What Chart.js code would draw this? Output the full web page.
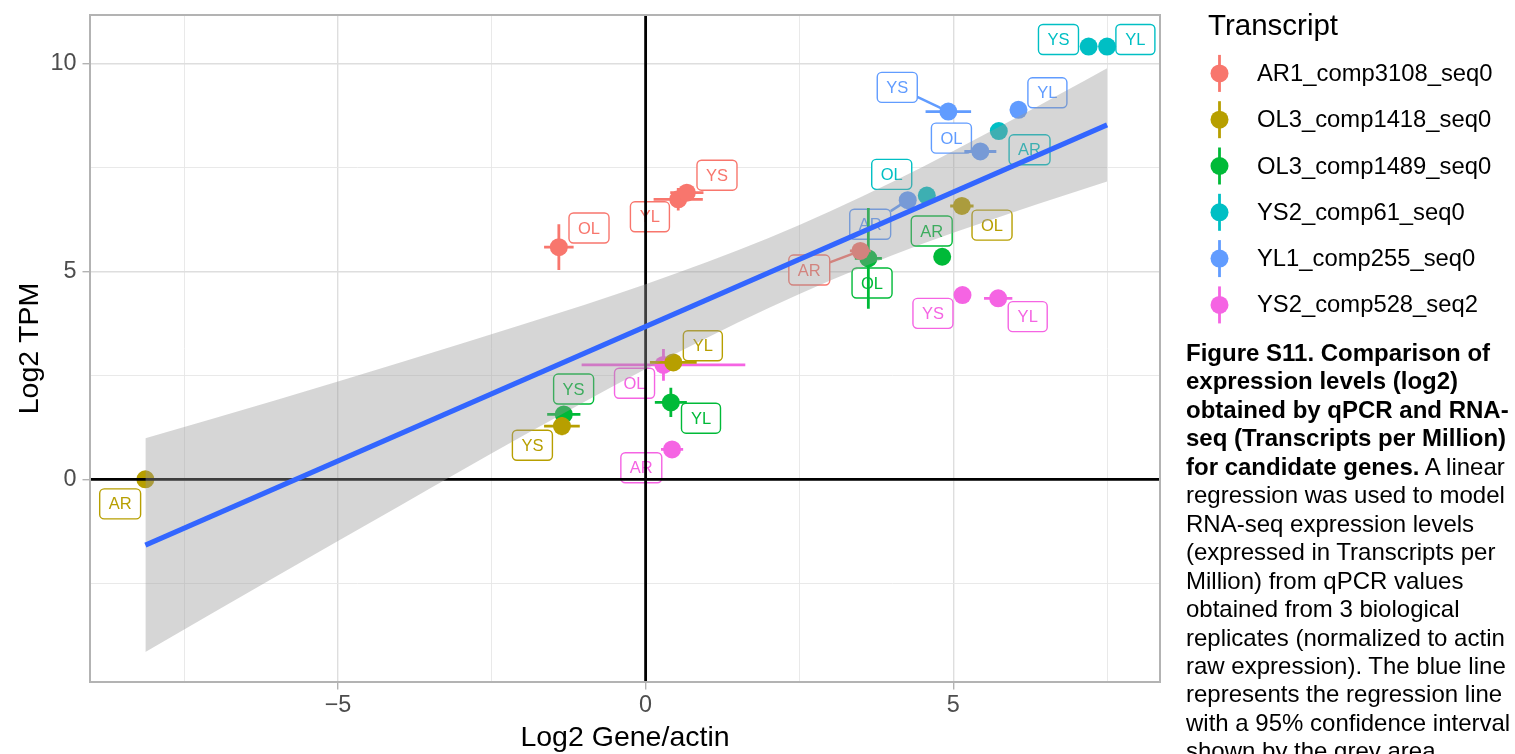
<!DOCTYPE html>
<html><head><meta charset="utf-8">
<script src="https://cdn.jsdelivr.net/npm/chart.js"></script>
<style>
html,body{margin:0;padding:0;background:#fff;overflow:hidden;}
#wrap{position:relative;width:1515px;height:754px;overflow:hidden;}
canvas{position:absolute;left:0;top:0;}
#cap{position:absolute;left:1186px;top:339px;font-family:"Liberation Sans",Arial,sans-serif;font-size:24px;line-height:28.46px;white-space:nowrap;color:#000;}
</style></head><body>
<div id="wrap"><canvas id="c" width="1515" height="754"></canvas>
<div id="cap"><b>Figure S11. Comparison of<br>expression levels (log2)<br>obtained by qPCR and RNA-<br>seq (Transcripts per Million)<br>for candidate genes.</b> A linear<br>regression was used to model<br>RNA-seq expression levels<br>(expressed in Transcripts per<br>Million) from qPCR values<br>obtained from 3 biological<br>replicates (normalized to actin<br>raw expression). The blue line<br>represents the regression line<br>with a 95% confidence interval<br>shown by the grey area.</div></div>
<script>
// ---------------- data ----------------
const transcripts = ['AR1_comp3108_seq0','OL3_comp1418_seq0','OL3_comp1489_seq0','YS2_comp61_seq0','YL1_comp255_seq0','YS2_comp528_seq2'];
const tissues = ['AR','OL','YL','YS'];
// Log2 Gene/actin (x), per transcript, order AR, OL, YL, YS
const geneActin = [
  [3.49, -1.41, 0.53, 0.67],
  [-8.13, 5.14, 0.45, -1.36],
  [4.82, 3.62, 0.41, -1.33],
  [5.74, 4.57, 7.50, 7.20],
  [4.26, 5.44, 6.06, 4.92],
  [0.43, 0.29, 5.73, 5.15]
];
// Log2 TPM (y)
const tpm = [
  [5.49, 5.58, 6.73, 6.89],
  [0.00, 6.57, 2.81, 1.28],
  [5.35, 5.31, 1.85, 1.56],
  [8.37, 6.82, 10.40, 10.40],
  [6.71, 7.88, 8.88, 8.84],
  [0.72, 2.75, 4.35, 4.43]
];
// half-width of error bars
const geneActinErr = [
  [0.17, 0.24, 0.40, 0.27],
  [0.12, 0.19, 0.38, 0.29],
  [0.05, 0.22, 0.26, 0.27],
  [0.10, 0.08, 0.07, 0.05],
  [0.10, 0.26, 0.05, 0.37],
  [0.18, 1.33, 0.23, 0.10]
];
const tpmErr = [
  [0.10, 0.55, 0.27, 0.20],
  [0.00, 0.08, 0.12, 0.22],
  [0.05, 1.21, 0.35, 0.12],
  [0.10, 0.08, 0.05, 0.05],
  [0.08, 0.10, 0.05, 0.10],
  [0.08, 0.38, 0.08, 0.10]
];
// repelled label anchor (data units)
const labelGeneActin = [
  [2.66, -0.92, 0.07, 1.16],
  [-8.54, 5.63, 0.93, -1.84],
  [4.65, 3.68, 0.90, -1.17],
  [6.24, 4.00, 7.96, 6.71],
  [3.65, 4.97, 6.53, 4.09],
  [-0.07, -0.18, 6.21, 4.67]
];
const labelTpm = [
  [5.03, 6.04, 6.31, 7.31],
  [-0.59, 6.11, 3.21, 0.82],
  [5.97, 4.72, 1.47, 2.17],
  [7.92, 7.33, 10.57, 10.57],
  [6.13, 8.20, 9.29, 9.42],
  [0.28, 2.31, 3.91, 3.99]
];
// regression line and 95% CI band
const fitX = [-8.13, 7.50];
const fitY = [-1.58, 8.52];
const bandX = [-8.13, -6, -4, -2, 0, 2, 4, 6, 7.50];
const bandUpper = [0.99, 1.91, 2.80, 3.72, 4.69, 5.80, 7.14, 8.67, 9.88];
const bandLower = [-4.15, -2.33, -0.64, 1.04, 2.65, 4.12, 5.38, 6.43, 7.16];
// ticks
const xTicks = [-7.5, -5, -2.5, 0, 2.5, 5, 7.5];
const yTicks = [-2.5, 0, 2.5, 5, 7.5, 10];

// ---------------- style ----------------
const colors = ['#F8766D','#B79F00','#00BA38','#00BFC4','#619CFF','#F564E3'];
const FONT = '"Liberation Sans", Arial, sans-serif';
const POINT_R = 9;

function fmt(v){ if (Math.abs(v % 5) > 1e-9) return ''; return v < 0 ? '\u2212' + Math.abs(v) : String(v); }
function isMajor(c){ return c && c.tick && Math.abs(c.tick.value % 5) < 1e-9; }

const datasets = transcripts.map((name, s) => ({
  type: 'scatter',
  label: name,
  data: geneActin[s].map((x, j) => ({x: x, y: tpm[s][j]})),
  backgroundColor: colors[s],
  borderWidth: 0,
  pointRadius: POINT_R,
  pointHoverRadius: POINT_R,
  order: 10
}));
datasets.push({
  type: 'line', label: 'ci_upper',
  data: bandX.map((x, i) => ({x: x, y: bandUpper[i]})),
  fill: '+1', backgroundColor: 'rgba(153,153,153,0.4)',
  borderColor: 'rgba(0,0,0,0)', borderWidth: 0, pointRadius: 0,
  cubicInterpolationMode: 'monotone', order: 5
});
datasets.push({
  type: 'line', label: 'ci_lower',
  data: bandX.map((x, i) => ({x: x, y: bandLower[i]})),
  fill: false, borderColor: 'rgba(0,0,0,0)', borderWidth: 0, pointRadius: 0,
  cubicInterpolationMode: 'monotone', order: 5
});
datasets.push({
  type: 'line', label: 'fit',
  data: fitX.map((x, i) => ({x: x, y: fitY[i]})),
  fill: false, borderColor: '#3366FF', borderWidth: 5, pointRadius: 0,
  borderCapStyle: 'butt', order: 1
});

function clipArea(ctx, a){ ctx.beginPath(); ctx.rect(a.left, a.top, a.right - a.left, a.bottom - a.top); ctx.clip(); }

function boxEdge(cx, cy, hw, hh, tx, ty){
  const dx = tx - cx, dy = ty - cy;
  let t = 1;
  if (dx !== 0) t = Math.min(t, hw / Math.abs(dx));
  if (dy !== 0) t = Math.min(t, hh / Math.abs(dy));
  return [cx + dx * t, cy + dy * t];
}

const overlay = {
  id: 'overlay',
  beforeDatasetsDraw(chart){
    const ctx = chart.ctx, a = chart.chartArea, xs = chart.scales.x, ys = chart.scales.y;
    ctx.save(); clipArea(ctx, a);
    ctx.font = '16.5px ' + FONT;
    const boxes = [];
    transcripts.forEach((n, s) => tissues.forEach((t, j) => {
      const cx = xs.getPixelForValue(labelGeneActin[s][j]);
      const cy = ys.getPixelForValue(labelTpm[s][j]);
      const w = Math.max(39, ctx.measureText(t).width + 18), h = 30;
      const px = xs.getPixelForValue(geneActin[s][j]);
      const py = ys.getPixelForValue(tpm[s][j]);
      boxes.push({s, t, cx, cy, w, h, px, py});
    }));
    // segments
    boxes.forEach(b => {
      const e = boxEdge(b.cx, b.cy, b.w / 2, b.h / 2, b.px, b.py);
      const gap = Math.hypot(b.px - e[0], b.py - e[1]) - POINT_R;
      if (gap > 9) {
        ctx.strokeStyle = colors[b.s]; ctx.lineWidth = 2.5;
        ctx.beginPath(); ctx.moveTo(e[0], e[1]); ctx.lineTo(b.px, b.py); ctx.stroke();
      }
    });
    // label boxes
    ctx.textAlign = 'center'; ctx.textBaseline = 'middle';
    boxes.forEach(b => {
      ctx.beginPath();
      ctx.roundRect(b.cx - b.w / 2, b.cy - b.h / 2, b.w, b.h, 4.5);
      ctx.fillStyle = '#fff'; ctx.fill();
      ctx.strokeStyle = colors[b.s]; ctx.lineWidth = 1.4; ctx.stroke();
      ctx.fillStyle = colors[b.s];
      ctx.fillText(b.t, b.cx, b.cy + 1);
    });
    ctx.restore();
  },
  beforeDatasetDraw(chart, args){
    const s = args.index;
    if (s >= transcripts.length) return;
    const ctx = chart.ctx, a = chart.chartArea, xs = chart.scales.x, ys = chart.scales.y;
    ctx.save(); clipArea(ctx, a);
    ctx.strokeStyle = colors[s]; ctx.lineWidth = 2.8; ctx.lineCap = 'butt';
    geneActin[s].forEach((x, j) => {
      const y = tpm[s][j];
      const ex = geneActinErr[s][j], ey = tpmErr[s][j];
      ctx.beginPath();
      if (ex > 0) { ctx.moveTo(xs.getPixelForValue(x - ex), ys.getPixelForValue(y)); ctx.lineTo(xs.getPixelForValue(x + ex), ys.getPixelForValue(y)); }
      if (ey > 0) { ctx.moveTo(xs.getPixelForValue(x), ys.getPixelForValue(y - ey)); ctx.lineTo(xs.getPixelForValue(x), ys.getPixelForValue(y + ey)); }
      ctx.stroke();
    });
    ctx.restore();
  },
  afterDatasetDraw(chart, args){
    if (args.index !== 0) return;
    const ctx = chart.ctx, a = chart.chartArea, xs = chart.scales.x, ys = chart.scales.y;
    ctx.save(); clipArea(ctx, a);
    ctx.strokeStyle = '#000'; ctx.lineWidth = 2.8;
    const y0 = ys.getPixelForValue(0), x0 = xs.getPixelForValue(0);
    ctx.beginPath(); ctx.moveTo(a.left, y0); ctx.lineTo(a.right, y0); ctx.stroke();
    ctx.beginPath(); ctx.moveTo(x0, a.top); ctx.lineTo(x0, a.bottom); ctx.stroke();
    ctx.restore();
  },
  afterDraw(chart){
    const ctx = chart.ctx, a = chart.chartArea;
    ctx.save();
    ctx.strokeStyle = '#B3B3B3'; ctx.lineWidth = 2;
    ctx.strokeRect(a.left, a.top, a.right - a.left, a.bottom - a.top);
    // legend
    const lx = a.right + 48;
    ctx.fillStyle = '#000'; ctx.textAlign = 'left'; ctx.textBaseline = 'middle';
    ctx.font = '29.5px ' + FONT;
    ctx.fillText('Transcript', lx, 27);
    ctx.font = '23.8px ' + FONT;
    transcripts.forEach((n, i) => {
      const ky = 73.4 + i * 46.3, kx = lx + 11.5;
      ctx.strokeStyle = colors[i]; ctx.lineWidth = 2.8;
      ctx.beginPath(); ctx.moveTo(kx, ky - 18.5); ctx.lineTo(kx, ky + 18.5); ctx.stroke();
      ctx.fillStyle = colors[i];
      ctx.beginPath(); ctx.arc(kx, ky, POINT_R, 0, Math.PI * 2); ctx.fill();
      ctx.fillStyle = '#000';
      ctx.fillText(n, lx + 49, ky + 1);
    });
    ctx.restore();
  }
};

const gridOpts = {
  color: c => isMajor(c) ? '#DEDEDE' : '#E6E6E6',
  lineWidth: c => isMajor(c) ? 1.4 : 0.9,
  tickColor: c => isMajor(c) ? '#B3B3B3' : 'rgba(0,0,0,0)',
  tickLength: 7.5,
  tickWidth: 1.4,
  drawTicks: true
};

new Chart(document.getElementById('c'), {
  type: 'scatter',
  data: { datasets: datasets },
  options: {
    responsive: false,
    animation: false,
    devicePixelRatio: 1,
    events: [],
    layout: { padding: { left: 0, right: 355, top: 15, bottom: 0 } },
    plugins: { legend: { display: false }, tooltip: { enabled: false } },
    scales: {
      x: {
        type: 'linear', min: -9.03, max: 8.36,
        afterBuildTicks: sc => { sc.ticks = xTicks.map(v => ({ value: v })); },
        afterFit: sc => { sc.height = 72; sc.paddingLeft = 0; sc.paddingRight = 0; },
        grid: gridOpts,
        border: { display: false },
        ticks: { font: { family: FONT, size: 23.4 }, color: '#4D4D4D', padding: 2, autoSkip: false, maxRotation: 0, callback: v => fmt(v) },
        title: { display: true, text: 'Log2 Gene/actin', color: '#000', font: { family: FONT, size: 28.5, lineHeight: 1.1 }, padding: { top: 0, bottom: 0 } }
      },
      y: {
        type: 'linear', min: -4.87, max: 11.16,
        afterBuildTicks: sc => { sc.ticks = yTicks.map(v => ({ value: v })); },
        afterFit: sc => { sc.width = 90; sc.paddingTop = 0; sc.paddingBottom = 0; },
        grid: gridOpts,
        border: { display: false },
        ticks: { font: { family: FONT, size: 23.4 }, color: '#4D4D4D', padding: 6, autoSkip: false, callback: v => fmt(v) },
        title: { display: true, text: 'Log2 TPM', color: '#000', font: { family: FONT, size: 28.5, lineHeight: 1.1 }, padding: { top: 14, bottom: 0 } }
      }
    }
  },
  plugins: [overlay]
});
</script>
</body></html>
